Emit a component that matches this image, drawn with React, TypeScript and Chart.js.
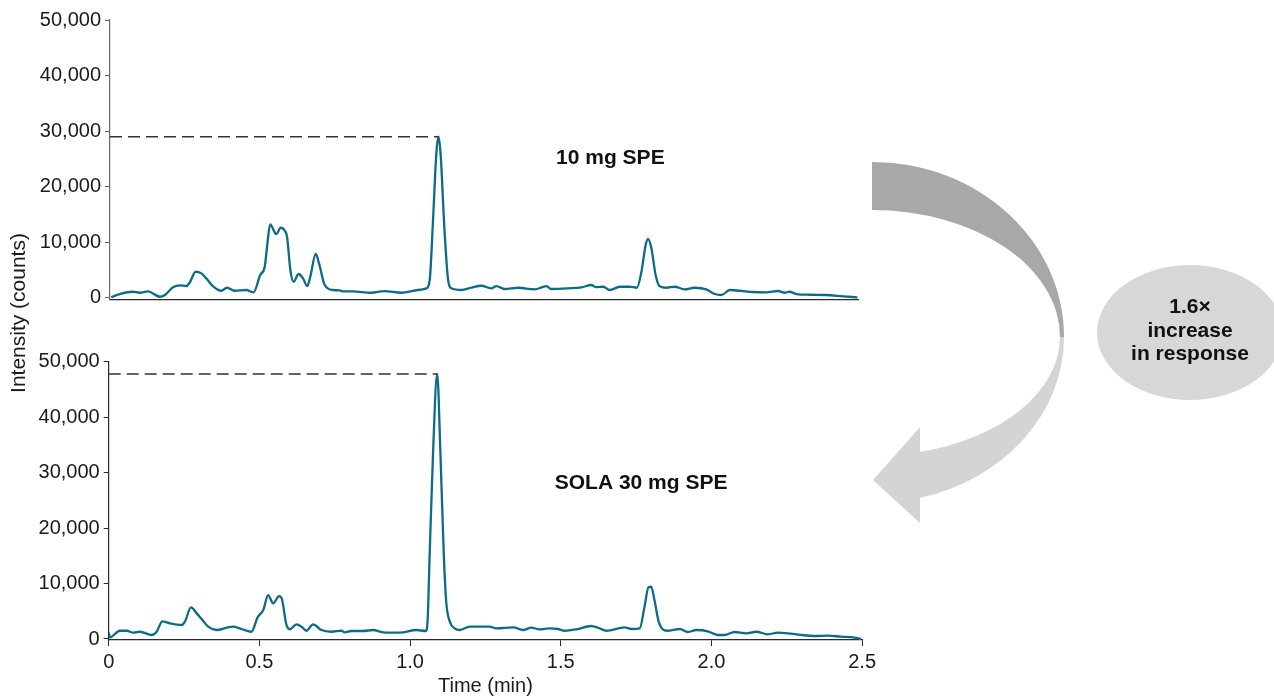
import React, { useEffect, useRef } from "react";
import { Chart, registerables } from "chart.js";

Chart.register(...registerables);

const FONT = "'Liberation Sans', Arial, Helvetica, sans-serif";
const LINE_COLOR = "#0c6c87";
const TEXT_COLOR = "#1a1a1a";

// ---- data (time in min, intensity in counts) ----
const topTimes = [
  0.004, 0.032, 0.076, 0.098, 0.126, 0.165, 0.181, 0.209, 0.231, 0.253, 0.264, 0.284, 0.303,
  0.319, 0.341, 0.369, 0.388, 0.413, 0.452, 0.476, 0.498, 0.513, 0.522, 0.531, 0.551, 0.566,
  0.579, 0.587, 0.598, 0.609, 0.625, 0.640, 0.654, 0.664, 0.682, 0.693, 0.712, 0.739, 0.761,
  0.772, 0.805, 0.866, 0.910, 0.966, 1.021, 1.049, 1.060, 1.071, 1.082, 1.089, 1.096, 1.109,
  1.121, 1.132, 1.165, 1.198, 1.231, 1.264, 1.281, 1.308, 1.353, 1.408, 1.447, 1.463, 1.519,
  1.563, 1.596, 1.612, 1.635, 1.657, 1.690, 1.723, 1.747, 1.762, 1.776, 1.784, 1.795, 1.809,
  1.822, 1.845, 1.872, 1.905, 1.938, 1.977, 2.005, 2.027, 2.055, 2.088, 2.132, 2.176, 2.215,
  2.237, 2.253, 2.276, 2.320, 2.375, 2.430, 2.478,
];
const topIntensity = [
  100, 660, 1080, 900, 1150, 180, 430, 1870, 2230, 2100, 2700, 4680, 4390,
  3490, 2100, 1260, 1800, 1260, 1390, 970, 4090, 5580, 9790, 13200, 11470, 12600,
  12100, 10980, 4990, 2880, 4270, 3490, 2100, 3780, 7870, 6190, 2290, 1390, 1330,
  1150, 1150, 900, 1200, 900, 1390, 1690, 3190, 13990, 26000, 29000, 26000, 12190,
  3190, 1690, 1390, 1800, 2160, 1690, 2100, 1570, 1800, 1510, 2100, 1570, 1690,
  1870, 2290, 1900, 1980, 1390, 1980, 1980, 1800, 4680, 9490, 10570, 8890, 4090,
  2100, 1800, 1980, 1510, 1800, 1510, 670, 490, 1390, 1260, 1030, 970, 1210,
  900, 1080, 670, 540, 490, 250, 70,
];

const bottomTimes = [
  0.000, 0.004, 0.037, 0.060, 0.082, 0.104, 0.143, 0.159, 0.178, 0.203, 0.242, 0.253, 0.273,
  0.292, 0.311, 0.330, 0.358, 0.396, 0.413, 0.441, 0.474, 0.494, 0.513, 0.529, 0.546, 0.565,
  0.574, 0.590, 0.601, 0.623, 0.640, 0.656, 0.678, 0.706, 0.739, 0.773, 0.783, 0.805, 0.844,
  0.877, 0.910, 0.966, 1.021, 1.052, 1.058, 1.065, 1.076, 1.090, 1.101, 1.112, 1.120, 1.132,
  1.148, 1.165, 1.198, 1.231, 1.264, 1.286, 1.342, 1.375, 1.402, 1.430, 1.463, 1.491, 1.513,
  1.552, 1.601, 1.612, 1.629, 1.651, 1.712, 1.734, 1.762, 1.778, 1.791, 1.800, 1.811, 1.825,
  1.853, 1.895, 1.922, 1.950, 1.988, 2.021, 2.043, 2.077, 2.115, 2.149, 2.187, 2.220, 2.253,
  2.298, 2.342, 2.386, 2.430, 2.475, 2.497,
];
const bottomIntensity = [
  1130, 300, 1490, 1490, 1130, 1310, 720, 1310, 3190, 2820, 2520, 3120, 5700,
  4620, 3420, 2220, 1620, 2100, 2220, 1800, 1310, 3900, 5220, 7920, 6420, 7740,
  7320, 2520, 1740, 2640, 2220, 1490, 2640, 1620, 1310, 1490, 1200, 1440, 1440,
  1620, 1200, 1130, 1620, 1440, 3110, 15120, 33120, 47800, 33120, 15120, 6720, 3120,
  1920, 1620, 2220, 2220, 2220, 1920, 2100, 1620, 2040, 1740, 1920, 1800, 1490,
  1740, 2340, 2220, 1920, 1490, 2100, 1800, 1920, 5820, 9300, 9420, 7020, 3120,
  1490, 1800, 1260, 1620, 1380, 720, 720, 1260, 1020, 1310, 850, 1130, 1020,
  720, 540, 600, 420, 240, 0,
];

const yTickValues = [0, 10000, 20000, 30000, 40000, 50000];
const xTickValues = [0, 0.5, 1.0, 1.5, 2.0, 2.5];
const xTickLabels = ["0", "0.5", "1.0", "1.5", "2.0", "2.5"];
const seriesLabels = ["10 mg SPE", "SOLA 30 mg SPE"];
const xAxisTitle = "Time (min)";
const yAxisTitle = "Intensity (counts)";
const calloutLines = ["1.6\u00d7", "increase", "in response"];

const seriesLabelPlugin = {
  id: "seriesLabel",
  afterDatasetsDraw(chart: any, _args: any, opts: any) {
    if (!opts || !opts.text) return;
    const { ctx } = chart;
    const x = chart.scales.x.getPixelForValue(opts.x);
    const y = chart.scales.y.getPixelForValue(opts.y);
    ctx.save();
    ctx.font = `bold 21px ${FONT}`;
    ctx.fillStyle = "#111";
    ctx.textAlign = "left";
    ctx.textBaseline = "middle";
    ctx.fillText(opts.text, x, y);
    ctx.restore();
  },
};

type PanelProps = {
  times: number[];
  values: number[];
  label: string;
  labelAt: { x: number; y: number };
  width: number;
  height: number;
  top: number;
  padTop: number;
  padRight: number;
  yWidth: number;
  xHeight: number;
  xMax: number;
  yMin: number;
  showX: boolean;
  yAxisColor: string;
};

function buildConfig(p: PanelProps): any {
  const points = p.times.map((t, i) => ({ x: t, y: p.values[i] }));
  let mi = 0;
  p.values.forEach((v, i) => {
    if (v > p.values[mi]) mi = i;
  });
  const peakLine = [
    { x: 0, y: p.values[mi] },
    { x: p.times[mi], y: p.values[mi] },
  ];
  return {
    type: "line",
    data: {
      datasets: [
        {
          label: "peak level",
          data: peakLine,
          borderColor: "#333333",
          borderWidth: 1.5,
          borderDash: [12, 6],
          pointRadius: 0,
          fill: false,
        },
        {
          label: p.label,
          data: points,
          borderColor: LINE_COLOR,
          borderWidth: 2.3,
          pointRadius: 0,
          cubicInterpolationMode: "monotone",
          fill: false,
        },
      ],
    },
    options: {
      animation: false,
      responsive: false,
      maintainAspectRatio: false,
      events: [],
      layout: { padding: { top: p.padTop, right: p.padRight, bottom: 0, left: 0 } },
      plugins: {
        legend: { display: false },
        tooltip: { enabled: false },
        seriesLabel: { text: p.label, x: p.labelAt.x, y: p.labelAt.y },
      },
      scales: {
        x: {
          type: "linear",
          min: 0,
          max: p.xMax,
          afterFit: (s: any) => {
            s.height = p.xHeight;
          },
          afterBuildTicks: (s: any) => {
            s.ticks = xTickValues.filter((v) => v <= p.xMax).map((v) => ({ value: v }));
          },
          border: { display: true, color: "#2a2a2a", width: 1.2 },
          grid: {
            display: true,
            drawOnChartArea: false,
            drawTicks: p.showX,
            tickLength: 6,
            color: "#2a2a2a",
          },
          ticks: {
            display: p.showX,
            padding: 4,
            color: TEXT_COLOR,
            font: { family: FONT, size: 20 },
            maxRotation: 0,
            callback: (_v: any, i: number) => xTickLabels[i],
          },
          title: {
            display: p.showX,
            text: xAxisTitle,
            color: TEXT_COLOR,
            font: { family: FONT, size: 20 },
            padding: { top: 0, bottom: 12 },
          },
        },
        y: {
          type: "linear",
          min: p.yMin,
          max: 50000,
          afterFit: (s: any) => {
            s.width = p.yWidth;
          },
          afterBuildTicks: (s: any) => {
            s.ticks = yTickValues.map((v) => ({ value: v }));
          },
          border: { display: true, color: p.yAxisColor, width: 1.2 },
          grid: {
            display: true,
            drawOnChartArea: false,
            drawTicks: true,
            tickLength: 5,
            color: p.yAxisColor,
          },
          ticks: {
            padding: 4,
            color: TEXT_COLOR,
            font: { family: FONT, size: 20 },
            callback: (v: any) => Number(v).toLocaleString("en-US"),
          },
        },
      },
    },
    plugins: [seriesLabelPlugin],
  };
}

function Panel(p: PanelProps) {
  const ref = useRef<HTMLCanvasElement | null>(null);
  useEffect(() => {
    if (!ref.current) return;
    const chart = new Chart(ref.current, buildConfig(p));
    return () => chart.destroy();
  }, []);
  return (
    <canvas
      ref={ref}
      width={p.width}
      height={p.height}
      style={{ position: "absolute", left: 0, top: p.top, width: p.width, height: p.height }}
    />
  );
}

export default function App() {
  return (
    <div
      style={{
        position: "absolute",
        left: 0,
        top: 0,
        width: 1274,
        height: 696,
        overflow: "hidden",
        background: "#ffffff",
        fontFamily: FONT,
      }}
    >
      <Panel
        times={topTimes}
        values={topIntensity}
        label={seriesLabels[0]}
        labelAt={{ x: 1.479, y: 25150 }}
        width={880}
        height={320}
        top={0}
        padTop={20}
        padRight={22}
        yWidth={110}
        xHeight={20.6}
        xMax={2.48}
        yMin={-300}
        showX={false}
        yAxisColor="#666666"
      />
      <Panel
        times={bottomTimes}
        values={bottomIntensity}
        label={seriesLabels[1]}
        labelAt={{ x: 1.48, y: 28130 }}
        width={880}
        height={370}
        top={340}
        padTop={21.7}
        padRight={17.3}
        yWidth={108.7}
        xHeight={69.9}
        xMax={2.5}
        yMin={-200}
        showX={true}
        yAxisColor="#2a2a2a"
      />
      <div
        style={{
          position: "absolute",
          left: 18,
          top: 313,
          transform: "translate(-50%, -50%) rotate(-90deg)",
          whiteSpace: "nowrap",
          fontSize: 21,
          color: TEXT_COLOR,
          fontFamily: FONT,
          lineHeight: "24px",
        }}
      >
        {yAxisTitle}
      </div>
      <svg
        width={1274}
        height={696}
        style={{ position: "absolute", left: 0, top: 0, pointerEvents: "none" }}
      >
        <path
          d="M 872 162 A 192 175 0 0 1 1064 337 L 1060 337 A 188 127 0 0 0 872 210 Z"
          fill="#a8a8a8"
        />
        <path
          d="M 1064 337 A 192 166 0 0 1 920 498 L 920 523 L 873 480 L 920 427 L 920 452 A 188 119 0 0 0 1060 337 Z"
          fill="#d3d4d6"
        />
        <ellipse cx={1190} cy={332.5} rx={93} ry={67.5} fill="#d6d7d9" />
        {calloutLines.map((t, i) => (
          <text
            key={i}
            x={1190}
            y={313 + i * 23.5}
            textAnchor="middle"
            fontFamily={FONT}
            fontWeight="bold"
            fontSize={21}
            fill="#111"
          >
            {t}
          </text>
        ))}
      </svg>
    </div>
  );
}
